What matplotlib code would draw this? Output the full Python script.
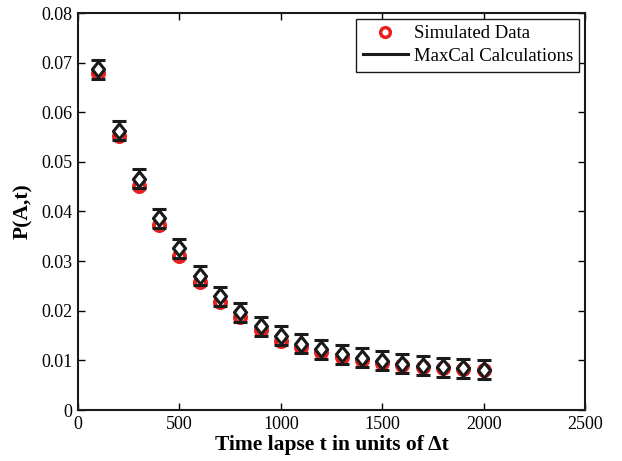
import matplotlib
matplotlib.use("Agg")
import matplotlib.pyplot as plt
from matplotlib.lines import Line2D

time_lapse = [100, 200, 300, 400, 500, 600, 700, 800, 900, 1000,
              1100, 1200, 1300, 1400, 1500, 1600, 1700, 1800, 1900, 2000]
simulated = [0.0679, 0.0553, 0.0452, 0.0372, 0.0310, 0.0257, 0.0217, 0.0187, 0.0161, 0.0140,
             0.0127, 0.0117, 0.0107, 0.0101, 0.0095, 0.0090, 0.0086, 0.0084, 0.0082, 0.0080]
maxcal = [0.0687, 0.0563, 0.0466, 0.0386, 0.0326, 0.0271, 0.0229, 0.0197, 0.0169, 0.0150,
          0.0134, 0.0122, 0.0112, 0.0105, 0.0099, 0.0093, 0.0089, 0.0086, 0.0084, 0.0081]
maxcal_err = [0.0019] * 20

plt.rcParams['font.family'] = ['Liberation Serif', 'DejaVu Serif']

W, H = 622, 461
fig = plt.figure(figsize=(W / 100, H / 100), dpi=100)
ax = fig.add_axes([78 / W, (H - 410) / H, (585 - 78) / W, (410 - 13) / H])

diamond = [(0, 1), (0.8, 0), (0, -1), (-0.8, 0), (0, 1)]

ax.plot(time_lapse, simulated, linestyle='none', marker='o', markersize=8,
        markerfacecolor='none', markeredgecolor='#e8201f', markeredgewidth=2.8, zorder=2)
ax.errorbar(time_lapse, maxcal, yerr=maxcal_err, fmt='none', ecolor='#1a1a1a',
            elinewidth=2.0, capsize=5, capthick=2.2, zorder=3)
ax.plot(time_lapse, maxcal, linestyle='none', marker=diamond, markersize=11,
        markerfacecolor='white', markeredgecolor='#1a1a1a', markeredgewidth=2.2, zorder=4)

ax.set_xlim(0, 2500)
ax.set_ylim(0, 0.08)
ax.set_xticks([0, 500, 1000, 1500, 2000, 2500])
ax.set_yticks([0, 0.01, 0.02, 0.03, 0.04, 0.05, 0.06, 0.07, 0.08])
ax.set_yticklabels(['0', '0.01', '0.02', '0.03', '0.04', '0.05', '0.06', '0.07', '0.08'])
ax.tick_params(direction='in', top=True, right=True, labelsize=13, length=5, width=1, pad=4)
for s in ax.spines.values():
    s.set_linewidth(1.5)
    s.set_color('#1a1a1a')

ax.set_xlabel('Time lapse t in units of Δt', fontsize=15.5, fontweight='bold', labelpad=2)
ax.set_ylabel('P(A,t)', fontsize=15.5, fontweight='bold', labelpad=6)

handles = [Line2D([], [], linestyle='none', marker='o', markersize=7, markerfacecolor='none',
                  markeredgecolor='#e8201f', markeredgewidth=2.5),
           Line2D([], [], color='#1a1a1a', linewidth=2.2)]
leg = ax.legend(handles, ['Simulated Data', 'MaxCal Calculations'], loc='upper right',
                fontsize=13.5, fancybox=False, edgecolor='#1a1a1a', framealpha=1,
                borderaxespad=0.3, handlelength=2.4, borderpad=0.35, labelspacing=0.3,
                handletextpad=0.3)
leg.get_frame().set_linewidth(1.0)

fig.savefig('out.png', dpi=100)
